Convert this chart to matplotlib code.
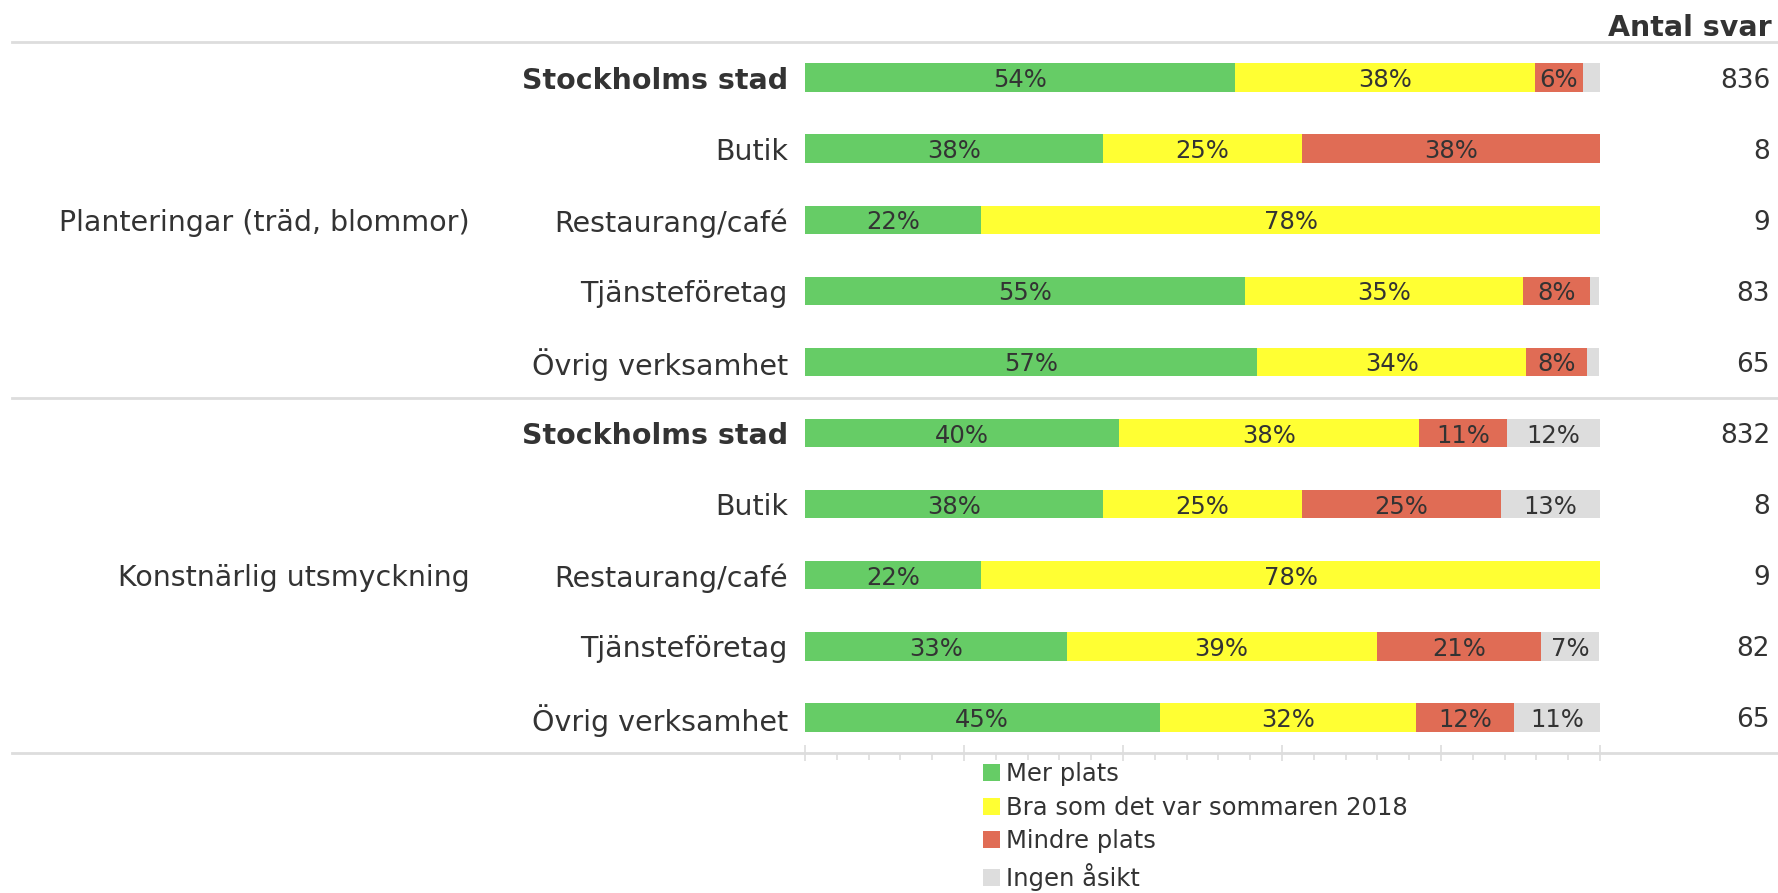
import matplotlib
matplotlib.use('Agg')
import matplotlib.pyplot as plt
from matplotlib.patches import Patch
from matplotlib.ticker import MultipleLocator
from matplotlib.transforms import blended_transform_factory

plt.rcParams['font.family'] = ['DejaVu Sans']

groups = ['Planteringar (träd, blommor)', 'Konstnärlig utsmyckning']
rows = ['Stockholms stad', 'Butik', 'Restaurang/café', 'Tjänsteföretag', 'Övrig verksamhet']
answers = ['Mer plats', 'Bra som det var sommaren 2018', 'Mindre plats', 'Ingen åsikt']
colors = ['#66cc66', '#ffff33', '#e06c55', '#dddddd']

# share of answers in percent, rows top to bottom (first group, then second group)
mer_plats = [54.1, 37.5, 22.2, 55.4, 56.9, 39.5, 37.5, 22.2, 32.9, 44.6]
bra_som_det_var = [37.7, 25.0, 77.8, 34.9, 33.8, 37.7, 25.0, 77.8, 39.0, 32.3]
mindre_plats = [6.0, 37.5, 0.0, 8.4, 7.7, 11.1, 25.0, 0.0, 20.7, 12.3]
ingen_asikt = [2.2, 0.0, 0.0, 1.2, 1.5, 11.7, 12.5, 0.0, 7.3, 10.8]
antal_svar = [836, 8, 9, 83, 65, 832, 8, 9, 82, 65]

W, H = 1778, 893
TXT = '#333333'
GRID = '#dddddd'

fig = plt.figure(figsize=(W / 100, H / 100), dpi=100)
ax = fig.add_axes([805 / W, 1 - 753 / H, 795 / W, 711 / H])

series = [mer_plats, bra_som_det_var, mindre_plats, ingen_asikt]
n = len(antal_svar)
ypos = list(range(n))
left = [0.0] * n
for vals, col in zip(series, colors):
    ax.barh(ypos, vals, left=left, height=0.4, color=col, linewidth=0)
    for i, v in enumerate(vals):
        if v >= 5:
            ax.text(left[i] + v / 2, i, '%d%%' % int(v + 0.5), ha='center',
                    va='center_baseline', fontsize=17.5, color=TXT)
    left = [l + v for l, v in zip(left, vals)]

ax.set_xlim(0, 100)
ax.set_ylim(n - 0.5, -0.5)
for s in ax.spines.values():
    s.set_visible(False)
ax.set_yticks([])
ax.xaxis.set_major_locator(MultipleLocator(20))
ax.xaxis.set_minor_locator(MultipleLocator(4))
ax.tick_params(axis='x', which='major', direction='inout', length=11.5, width=1.2,
               color=GRID, labelbottom=False)
ax.tick_params(axis='x', which='minor', direction='out', length=5, width=1.2, color=GRID)

# separators between header, groups and footer
sep = blended_transform_factory(fig.transFigure, ax.transAxes)
for yy in [1.0, 0.5, 0.0]:
    ax.plot([12 / W, 1.0], [yy, yy], transform=sep, color=GRID, lw=2, clip_on=False)

# row labels, group labels and counts
lab = blended_transform_factory(fig.transFigure, ax.transData)
for g, group in enumerate(groups):
    ax.text(470 / W, g * len(rows) + 2, group, transform=lab, ha='right',
            va='center_baseline', fontsize=20.5, color=TXT)
    for r, row in enumerate(rows):
        i = g * len(rows) + r
        ax.text(788 / W, i, row, transform=lab, ha='right', va='center_baseline',
                fontsize=20.5, color=TXT, fontweight='bold' if r == 0 else 'normal')
        ax.text(1770 / W, i, str(antal_svar[i]), transform=lab, ha='right',
                va='center_baseline', fontsize=19, color=TXT)

fig.text(1772 / W, 1 - 36 / H, 'Antal svar', ha='right', va='baseline', fontsize=20.5,
         fontweight='bold', color=TXT)

handles = [Patch(facecolor=c, edgecolor='none', label=a) for a, c in zip(answers, colors)]
fig.legend(handles=handles, loc='upper left', bbox_to_anchor=(983 / W, 1 - 762 / H),
           frameon=False, fontsize=17.5, handlelength=0.7, handleheight=0.7,
           handletextpad=0.25, labelspacing=0.4, borderaxespad=0, borderpad=0,
           labelcolor=TXT)

fig.savefig('out.png', dpi=100)
